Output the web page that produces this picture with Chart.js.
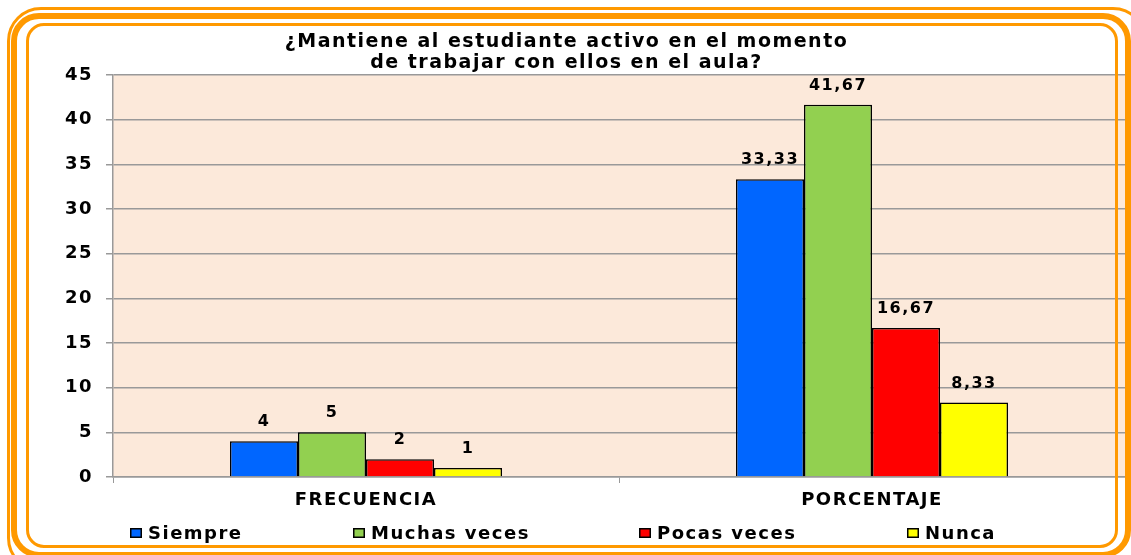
<!DOCTYPE html>
<html><head><meta charset="utf-8">
<script src="https://cdn.jsdelivr.net/npm/chart.js@4"></script>
<style>
html,body{margin:0;padding:0;background:#fff;overflow:hidden}
#wrap{position:relative;width:1131px;height:555px;overflow:hidden}
canvas{position:absolute;left:0;top:0}
.b{position:absolute;border-style:solid;border-color:#FF9900;box-sizing:border-box;pointer-events:none}
</style></head><body>
<div id="wrap">
<canvas id="c" width="1131" height="555"></canvas>
<div class="b" style="left:7px;top:7px;width:1140px;height:565px;border-width:3px;border-radius:34px"></div>
<div class="b" style="left:11px;top:13px;width:1120px;height:545px;border-width:6px;border-radius:28px"></div>
<div class="b" style="left:26px;top:23px;width:1092px;height:525px;border-width:3px;border-radius:18px"></div>
</div>
<script>
const categories = ['FRECUENCIA', 'PORCENTAJE'];
const seriesNames = ['Siempre', 'Muchas veces', 'Pocas veces', 'Nunca'];
const siempre = [4, 33.33];
const muchasVeces = [5, 41.67];
const pocasVeces = [2, 16.67];
const nunca = [1, 8.33];
const seriesColors = ['#0066FF', '#92D050', '#FF0000', '#FFFF00'];
const titleLines = ['¿Mantiene al estudiante activo en el momento', 'de trabajar con ellos en el aula?'];
const yMin = 0, yMax = 45, yStep = 5;

Chart.defaults.font.family = "'DejaVu Sans', sans-serif";
Chart.defaults.font.weight = 'bold';
Chart.defaults.color = '#000';

const SPACING = '1.5px';
const spacingPlugin = {
  id: 'spacing',
  beforeUpdate(chart) { chart.ctx.letterSpacing = SPACING; },
  beforeLayout(chart) { chart.ctx.letterSpacing = SPACING; },
  beforeDraw(chart) { chart.ctx.letterSpacing = SPACING; }
};
const bgPlugin = {
  id: 'plotBg',
  beforeDraw(chart) {
    const a = chart.chartArea, ctx = chart.ctx;
    ctx.save(); ctx.fillStyle = '#FCE9DA';
    ctx.fillRect(a.left, a.top, a.right - a.left, a.bottom - a.top);
    ctx.restore();
  }
};
const fmt = v => String(v).replace('.', ',');
const labelPlugin = {
  id: 'valueLabels',
  afterDatasetsDraw(chart) {
    const ctx = chart.ctx;
    ctx.save();
    ctx.letterSpacing = SPACING;
    ctx.font = "bold 16px 'DejaVu Sans'";
    ctx.fillStyle = '#000';
    ctx.textAlign = 'center';
    ctx.textBaseline = 'middle';
    chart.data.datasets.forEach((ds, i) => {
      chart.getDatasetMeta(i).data.forEach((el, j) => {
        ctx.fillText(fmt(ds.data[j]), el.x, el.y - 19);
      });
    });
    ctx.restore();
  }
};
const legendPlugin = {
  id: 'customLegend',
  afterDraw(chart) {
    const ctx = chart.ctx;
    ctx.save();
    ctx.letterSpacing = SPACING;
    ctx.font = "bold 18px 'DejaVu Sans'";
    const box = 12, boxH = 10, gapText = 6, gap = 110, cx = 562.5, y = 533;
    const items = chart.data.datasets.map(ds => ({
      label: ds.label, color: ds.backgroundColor,
      w: box + gapText + ctx.measureText(ds.label).width
    }));
    const total = items.reduce((s, it) => s + it.w, 0) + gap * (items.length - 1);
    let x = Math.round(cx - total / 2);
    ctx.textBaseline = 'middle';
    ctx.textAlign = 'left';
    items.forEach(it => {
      const bx = Math.round(x);
      ctx.fillStyle = it.color;
      ctx.fillRect(bx, y - boxH / 2, box, boxH);
      ctx.strokeStyle = '#000'; ctx.lineWidth = 1.5;
      ctx.strokeRect(bx + 0.75, y - boxH / 2 + 0.75, box - 1.5, boxH - 1.5);
      ctx.fillStyle = '#000';
      ctx.fillText(it.label, bx + box + gapText, y + 1);
      x += it.w + gap;
    });
    ctx.restore();
  }
};

const seriesData = [siempre, muchasVeces, pocasVeces, nunca];
new Chart(document.getElementById('c'), {
  type: 'bar',
  data: {
    labels: categories,
    datasets: seriesNames.map((n, i) => ({
      label: n,
      data: seriesData[i],
      backgroundColor: seriesColors[i],
      borderColor: '#000',
      borderWidth: 1.5,
      inflateAmount: 0,
      categoryPercentage: 272 / 506,
      barPercentage: 1.0
    }))
  },
  options: {
    responsive: false,
    animation: false,
    layout: { padding: { left: 8, right: 6, top: 32, bottom: 45 } },
    plugins: {
      legend: { display: false },
      tooltip: { enabled: false },
      title: {
        display: true,
        text: titleLines,
        color: '#000',
        font: { size: 19, weight: 'bold', lineHeight: 21 / 19 },
        padding: { top: 0, bottom: 1 }
      }
    },
    scales: {
      x: {
        grid: { drawOnChartArea: false, tickLength: 6, color: '#999', offset: true },
        border: { color: '#999', width: 1.5 },
        ticks: { color: '#000', font: { size: 18, weight: 'bold' }, padding: 7 },
        afterFit(s) { s.height = 33; }
      },
      y: {
        min: yMin, max: yMax,
        ticks: { stepSize: yStep, color: '#000', font: { size: 18, weight: 'bold' }, padding: 13 },
        grid: { color: '#999', lineWidth: 1.5, tickLength: 7 },
        border: { color: '#999', width: 1.5 },
        afterFit(s) { s.width = 105; }
      }
    }
  },
  plugins: [spacingPlugin, bgPlugin, labelPlugin, legendPlugin]
});
</script>
</body></html>
